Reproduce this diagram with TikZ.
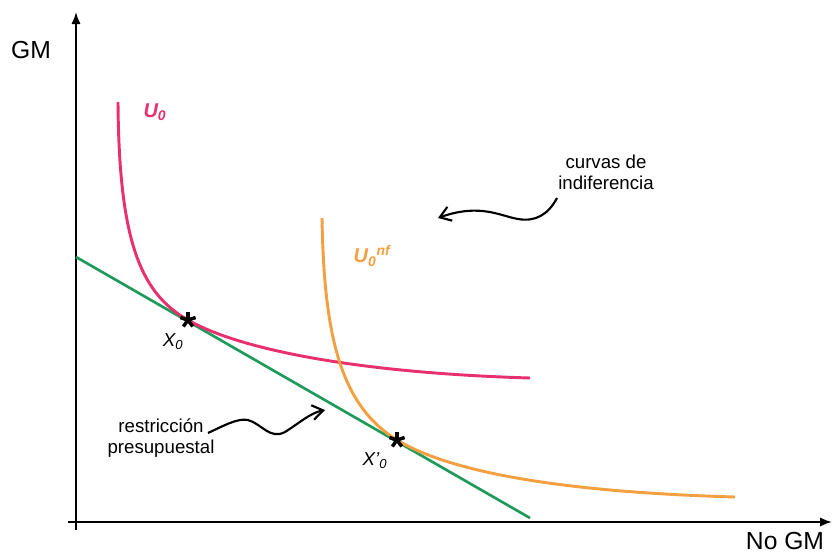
\documentclass[tikz,border=0pt]{standalone}
\usepackage{fontspec}
\setmainfont{Liberation Sans}
\usetikzlibrary{arrows.meta}
\definecolor{pinkc}{HTML}{E8306E}
\definecolor{orangec}{HTML}{F5A040}
\definecolor{greenc}{HTML}{1E9A5A}
\tikzset{
  axis/.style={line width=1.5pt, -{Latex[length=9pt,width=7pt]}},
  lbl/.style={font=\fontsize{14}{16}\selectfont, inner sep=0pt},
  axlbl/.style={font=\fontsize{18.5}{20}\selectfont, inner sep=0pt},
  curvelab/.style={font=\fontsize{15}{17}\selectfont\bfseries\itshape, inner sep=0pt},
  wavy/.style={line width=1.6pt, -{Straight Barb[length=8pt,width=11pt]}},
  starline/.style={line width=2.6pt},
}
\begin{document}
\begin{tikzpicture}[x=0.75pt,y=-0.75pt]
\useasboundingbox (0,0) rectangle (832,553);
% axes
\coordinate (o1) at (76,530);
\coordinate (ytip) at (76,12);
\coordinate (o2) at (68,522);
\coordinate (xtip) at (832,522);
\draw[axis] (o1) -- (ytip);
\draw[axis] (o2) -- (xtip);
\node[axlbl] (gm) at (31,50) {GM};
\node[axlbl] (nogm) at (785,541) {No GM};
% budget line
\coordinate (b1) at (76,257);
\coordinate (b2) at (530,518);
\draw[greenc, line width=2pt] (b1) -- (b2);
% U0
\coordinate (x0) at (188,320);
\coordinate (u0a) at (118,102);
\coordinate (u0b) at (530,378);
\draw[pinkc, line width=2.2pt] (u0a) .. controls (119,240) and (140,293) .. (x0)
  .. controls (240,350) and (360,373) .. (u0b);
% U0nf
\coordinate (x1) at (397,440);
\coordinate (una) at (322,218);
\coordinate (unb) at (735,497);
\draw[orangec, line width=2.2pt] (una) .. controls (324,335) and (340,405) .. (x1)
  .. controls (450,472) and (560,492) .. (unb);
% stars
\foreach \p in {x0,x1}{
  \foreach \a in {90,162,234,306,18}{
    \draw[starline] (\p) -- ++(\a:-8);
  }
}
% labels
\node[curvelab, text=pinkc] (u0l) at (155,112) {U\textsubscript{0}};
\node[curvelab, text=orangec] (unl) at (372,256) {U\textsubscript{0}\textsuperscript{nf}};
\node[lbl, font=\fontsize{14}{16}\selectfont\itshape] (x0l) at (173,342) {X\textsubscript{0}};
\node[lbl, font=\fontsize{14}{16}\selectfont\itshape] (x1l) at (375,461) {X'\textsubscript{0}};
\node[lbl, align=center] (cdi) at (606,172) {curvas de\\indiferencia};
\node[lbl, align=center] (rp) at (161,438) {restricción\\presupuestal};
% wavy arrows
\coordinate (c1) at (557,198);
\coordinate (c2) at (438,218);
\draw[wavy] (c1) .. controls (548,215) and (535,222) .. (518,219)
  .. controls (500,216) and (480,203) .. (c2);
\coordinate (r1) at (208,433);
\coordinate (r2) at (325,410);
\draw[wavy] (r1) .. controls (225,425) and (238,418) .. (248,420)
  .. controls (262,424) and (270,440) .. (285,432)
  .. controls (298,424) and (310,413) .. (r2);
\end{tikzpicture}
\end{document}
